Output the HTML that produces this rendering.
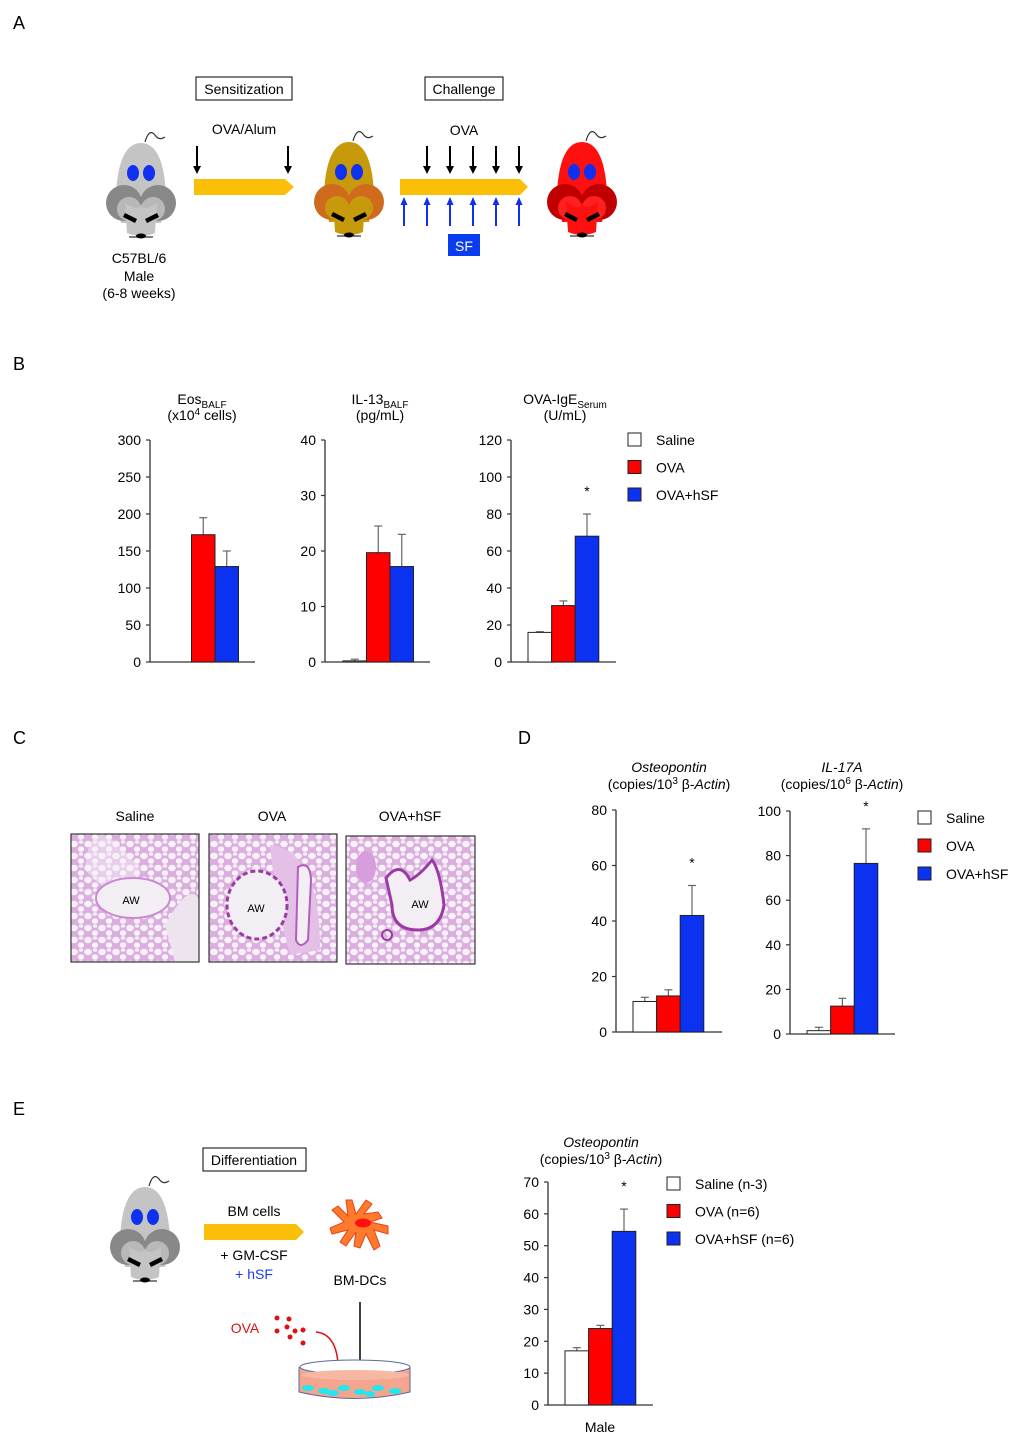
<!DOCTYPE html>
<html><head><meta charset="utf-8"><style>
html,body{margin:0;padding:0;background:#fff}
svg{display:block;font-family:"Liberation Sans",Arial,sans-serif}
</style></head><body>
<svg id="fig" width="1020" height="1444" viewBox="0 0 1020 1444" xmlns="http://www.w3.org/2000/svg">
<defs>
<pattern id="tissue" width="14" height="12" patternUnits="userSpaceOnUse">
<rect width="14" height="12" fill="#dcaee0"/>
<ellipse cx="4" cy="4" rx="3.8" ry="3.2" fill="#f7f2f8"/>
<ellipse cx="11" cy="9" rx="3.2" ry="2.8" fill="#f8f3f9"/>
<ellipse cx="11" cy="2" rx="2.2" ry="1.8" fill="#f5eef6"/>
</pattern>
<marker id="ah" markerWidth="9" markerHeight="9" refX="4" refY="4.5" orient="auto" markerUnits="userSpaceOnUse"><path d="M0,0 L9,4.5 L0,9z" fill="#000"/></marker>
</defs>
<g font-size="18" fill="#000">
<text x="13" y="29">A</text>
<text x="13" y="370">B</text>
<text x="13" y="744">C</text>
<text x="518" y="744">D</text>
<text x="13" y="1115">E</text>
</g>
<g id="panelA">
<rect x="196" y="77" width="96" height="23" fill="#fff" stroke="#000"/>
<text x="244" y="94" font-size="14" text-anchor="middle">Sensitization</text>
<rect x="425" y="77" width="78" height="23" fill="#fff" stroke="#000"/>
<text x="464" y="94" font-size="14" text-anchor="middle">Challenge</text>
<text x="244" y="134" font-size="14" text-anchor="middle">OVA/Alum</text>
<text x="464" y="135" font-size="14" text-anchor="middle">OVA</text>
<path d="M194,179 L285,179 L294,187 L285,195 L194,195z" fill="#fbbf0a"/>
<path d="M400,179 L520,179 L528,187 L520,195 L400,195z" fill="#fbbf0a"/>
<g id="blackArrows" stroke="#000" stroke-width="2"></g>
<g id="blueArrows" stroke="#1030f0" stroke-width="2"></g>
<rect x="448" y="234" width="32" height="22" fill="#0a3cf0"/>
<text x="464" y="251" font-size="14" fill="#fff" text-anchor="middle">SF</text>
<text x="139" y="263" font-size="14" text-anchor="middle">C57BL/6</text>
<text x="139" y="281" font-size="14" text-anchor="middle">Male</text>
<text x="139" y="298" font-size="14" text-anchor="middle">(6-8 weeks)</text>
<g id="mice"></g>
</g>
<g id="panelC">
<text x="135" y="821" font-size="14" text-anchor="middle">Saline</text>
<text x="272" y="821" font-size="14" text-anchor="middle">OVA</text>
<text x="410" y="821" font-size="14" text-anchor="middle">OVA+hSF</text>
<g>
<rect x="71" y="834" width="128" height="128" fill="url(#tissue)"/>
<path d="M85,870 Q130,920 140,870 Q90,800 85,870z" fill="#f5eef6" opacity="0.5"/>
<ellipse cx="133" cy="898" rx="37" ry="20" fill="#f3eef4" stroke="#c98ad0" stroke-width="2"/>
<path d="M165,925 Q190,880 199,900 L199,962 L175,962z" fill="#eee4f0"/>
<text x="131" y="904" font-size="11" text-anchor="middle">AW</text>
<rect x="71" y="834" width="128" height="128" fill="none" stroke="#333" stroke-width="1.2"/>
</g>
<g>
<rect x="209" y="834" width="128" height="128" fill="url(#tissue)"/>
<path d="M270,845 Q320,850 320,950 L290,955 Q275,900 270,845z" fill="#e4bfe6"/>
<ellipse cx="257" cy="905" rx="30" ry="34" fill="#f3eef4" stroke="#9b3aa5" stroke-width="3" stroke-dasharray="5 3"/>
<path d="M298,867 Q310,860 311,880 L308,940 Q300,950 296,940z" fill="#f3eef4" stroke="#b35dbc" stroke-width="2"/>
<text x="256" y="912" font-size="11" text-anchor="middle">AW</text>
<rect x="209" y="834" width="128" height="128" fill="none" stroke="#333" stroke-width="1.2"/>
</g>
<g>
<rect x="346" y="836" width="129" height="128" fill="url(#tissue)"/>
<path d="M386,878 Q400,860 410,880 Q420,875 432,860 Q440,870 444,905 Q440,930 418,930 Q392,930 392,905z" fill="#f3eef4" stroke="#9b3aa5" stroke-width="3"/>
<ellipse cx="366" cy="867" rx="10" ry="16" fill="#d89ddc"/>
<ellipse cx="387" cy="935" rx="5" ry="5" fill="none" stroke="#9b3aa5" stroke-width="2"/>
<text x="420" y="908" font-size="11" text-anchor="middle">AW</text>
<rect x="346" y="836" width="129" height="128" fill="none" stroke="#333" stroke-width="1.2"/>
</g>
</g>
<g id="panelE">
<rect x="203" y="1148" width="103" height="23" fill="#fff" stroke="#000"/>
<text x="254" y="1165" font-size="14" text-anchor="middle">Differentiation</text>
<text x="254" y="1216" font-size="14" text-anchor="middle">BM cells</text>
<path d="M204,1224 L296,1224 L304,1232 L296,1240 L204,1240z" fill="#fbbf0a"/>
<text x="254" y="1260" font-size="14" text-anchor="middle">+ GM-CSF</text>
<text x="254" y="1279" font-size="14" text-anchor="middle" fill="#1a3cf0">+ hSF</text>
<g stroke="#e8401a" stroke-width="1" fill="#ff7a2a">
<path d="M344,1222 L332,1210 L338,1206 L348,1216 L346,1200 L352,1200 L356,1214 L366,1200 L372,1204 L364,1214 L378,1212 L382,1218 L370,1222 L388,1226 L388,1234 L374,1230 L380,1246 L374,1250 L366,1234 L360,1248 L354,1246 L356,1232 L346,1246 L340,1242 L348,1230 L332,1234 L330,1228z"/>
<ellipse cx="363" cy="1223" rx="8" ry="4.5" fill="#ff1010" stroke="none"/>
</g>
<text x="360" y="1285" font-size="14" text-anchor="middle">BM-DCs</text>
<line x1="360" y1="1302" x2="360" y2="1366" stroke="#000" stroke-width="1.5"/>
<path d="M356,1363 L360,1371 L364,1363z" fill="#000"/>
<text x="245" y="1333" font-size="14" text-anchor="middle" fill="#e01010">OVA</text>
<g fill="#e01010">
<circle cx="277" cy="1318" r="2.5"/><circle cx="289" cy="1319" r="2.5"/><circle cx="287" cy="1327" r="2.5"/><circle cx="277" cy="1331" r="2.5"/><circle cx="295" cy="1331" r="2.5"/><circle cx="290" cy="1337" r="2.5"/><circle cx="303" cy="1330" r="2.5"/><circle cx="303" cy="1343" r="2.5"/>
</g>
<path d="M316,1332 Q336,1334 338,1364" fill="none" stroke="#e01010" stroke-width="1.5"/>
<path d="M334,1362 L338,1370 L342,1362z" fill="#e01010"/>
<g>
<path d="M299,1367 L299,1392 Q355,1405 410,1392 L410,1367" fill="#f4a58e" stroke="#5a6a9a"/>
<ellipse cx="355" cy="1367" rx="55" ry="7" fill="#fff" stroke="#5a6a9a"/>
<ellipse cx="355" cy="1375" rx="54" ry="5" fill="#f6b7a3" stroke="none"/>
<g fill="#22e6f0"><ellipse cx="308" cy="1388" rx="6" ry="3"/><ellipse cx="324" cy="1391" rx="6" ry="3"/><ellipse cx="344" cy="1388" rx="6" ry="3"/><ellipse cx="360" cy="1392" rx="6" ry="3"/><ellipse cx="378" cy="1388" rx="6" ry="3"/><ellipse cx="395" cy="1391" rx="6" ry="3"/><ellipse cx="333" cy="1393" rx="6" ry="3"/><ellipse cx="370" cy="1394" rx="5" ry="3"/></g>
</g>
</g>
<g id="charts"></g>
</svg>
<script>
// ---- Panel B data ----
const groups = ["Saline","OVA","OVA+hSF"];
const eosValues = [0, 172, 129];
const eosErrors = [0, 23, 21];
const eosTicks = [0,50,100,150,200,250,300];
const il13Values = [0.2, 19.7, 17.2];
const il13Errors = [0.3, 4.8, 5.8];
const il13Ticks = [0,10,20,30,40];
const igeValues = [16, 30.5, 68];
const igeErrors = [0.4, 2.5, 12];
const igeTicks = [0,20,40,60,80,100,120];
const igeStars = [false,false,true];
// ---- Panel D data ----
const opnValues = [11, 13, 42];
const opnErrors = [1.5, 2.2, 10.8];
const opnTicks = [0,20,40,60,80];
const opnStars = [false,false,true];
const il17Values = [1.5, 12.5, 76.5];
const il17Errors = [1.5, 3.5, 15.5];
const il17Ticks = [0,20,40,60,80,100];
const il17Stars = [false,false,true];
// ---- Panel E data ----
const maleValues = [17, 24, 54.5];
const maleErrors = [1, 1, 7];
const maleTicks = [0,10,20,30,40,50,60,70];
const maleStars = [false,false,true];
const legendE = ["Saline (n-3)","OVA (n=6)","OVA+hSF (n=6)"];
const colors = ["#ffffff","#ff0000","#0a32f0"];

const NS = "http://www.w3.org/2000/svg";
const root = document.getElementById('charts');
function mk(tag, attrs, parent, text){
  const e = document.createElementNS(NS, tag);
  for (const k in attrs) e.setAttribute(k, attrs[k]);
  if (text !== undefined) e.textContent = text;
  (parent||root).appendChild(e);
  return e;
}
function chart(name, o){
  const g = mk('g', {});
  
  
  const max = o.ticks[o.ticks.length-1];
  const y = v => o.bottom - (v/max)*(o.bottom - o.top);
  mk('line',{x1:o.ax,y1:o.top,x2:o.ax,y2:o.bottom,stroke:'#333','stroke-width':1.3},g);
  mk('line',{x1:o.ax,y1:o.bottom,x2:o.ax+o.len,y2:o.bottom,stroke:'#333','stroke-width':1.3},g);
  o.ticks.forEach(t=>{
    const ty = y(t);
    mk('line',{x1:o.ax-4,y1:ty,x2:o.ax,y2:ty,stroke:'#333','stroke-width':1.2},g);
    const tl = mk('text',{x:o.ax-9,y:ty+5,'font-size':14,'text-anchor':'end'},g,String(t));
    
    
  });
  o.values.forEach((v,i)=>{
    const bx = o.x0 + i*o.bw;
    if (v>0){
      const err = o.errors[i];
      if (err>0){
        mk('line',{x1:bx+o.bw/2,y1:y(v),x2:bx+o.bw/2,y2:y(v+err),stroke:'#666','stroke-width':1.2},g);
        mk('line',{x1:bx+o.bw/2-4,y1:y(v+err),x2:bx+o.bw/2+4,y2:y(v+err),stroke:'#666','stroke-width':1.2},g);
      }
      const r = mk('rect',{x:bx,y:y(v),width:o.bw,height:o.bottom-y(v),fill:colors[i],stroke:'#222','stroke-width':1},g);
      
      
    }
    if (o.stars && o.stars[i]){
      const s = mk('text',{x:bx+o.bw/2,y:y(o.values[i]+o.errors[i])-(o.starGap||18),'font-size':14,'text-anchor':'middle'},g,'*');
      
      
    }
  });
  return g;
}
function titleT(g, x, y, parts){
  const t = mk('text',{x:x,y:y,'font-size':14,'text-anchor':'middle'},g);
  parts.forEach(p=>{ mk('tspan',p.a||{},t,p.s); });
  
  
  return t;
}
function legend(name, x, y0, gap, labels){
  const g = mk('g',{});
  
  
  labels.forEach((l,i)=>{
    mk('rect',{x:x,y:y0+i*gap-7,width:13,height:13,fill:colors[i],stroke:'#222'},g);
    const t = mk('text',{x:x+28,y:y0+i*gap+5,'font-size':14},g,l);
    
    
  });
}
let g;
g = chart('eos-chart',{ax:150,top:440,bottom:662,len:105,ticks:eosTicks,values:eosValues,errors:eosErrors,x0:168,bw:23.5});
titleT(g,202,404,[{s:'Eos'},{s:'BALF',a:{'font-size':10,dy:4}}]);
titleT(g,202,420,[{s:'(x10'},{s:'4',a:{'font-size':10,dy:-5}},{s:' cells)',a:{dy:5}}]);
g = chart('il13-chart',{ax:325,top:440,bottom:662,len:105,ticks:il13Ticks,values:il13Values,errors:il13Errors,x0:343,bw:23.5});
titleT(g,380,404,[{s:'IL-13'},{s:'BALF',a:{'font-size':10,dy:4}}]);
titleT(g,380,420,[{s:'(pg/mL)'}]);
g = chart('ige-chart',{ax:511,top:440,bottom:662,len:105,ticks:igeTicks,values:igeValues,errors:igeErrors,x0:528,bw:23.6,stars:igeStars});
titleT(g,565,404,[{s:'OVA-IgE'},{s:'Serum',a:{'font-size':10,dy:4}}]);
titleT(g,565,420,[{s:'(U/mL)'}]);
legend('legend-b',628,440,27.5,groups);
g = chart('osteopontin-lung-chart',{ax:616,top:810,bottom:1032,len:106,ticks:opnTicks,values:opnValues,errors:opnErrors,x0:633,bw:23.6,stars:opnStars});
titleT(g,669,772,[{s:'Osteopontin',a:{'font-style':'italic'}}]);
titleT(g,669,789,[{s:'(copies/10'},{s:'3',a:{'font-size':10,dy:-5}},{s:' β-',a:{dy:5}},{s:'Actin',a:{'font-style':'italic'}},{s:')'}]);
g = chart('il17a-chart',{ax:790,top:811,bottom:1034,len:105,ticks:il17Ticks,values:il17Values,errors:il17Errors,x0:807,bw:23.6,stars:il17Stars});
titleT(g,842,772,[{s:'IL-17A',a:{'font-style':'italic'}}]);
titleT(g,842,789,[{s:'(copies/10'},{s:'6',a:{'font-size':10,dy:-5}},{s:' β-',a:{dy:5}},{s:'Actin',a:{'font-style':'italic'}},{s:')'}]);
legend('legend-d',918,818,28,groups);
g = chart('osteopontin-bmdc-chart',{ax:548,top:1182,bottom:1405,len:105,ticks:maleTicks,values:maleValues,errors:maleErrors,x0:565,bw:23.6,stars:maleStars});
titleT(g,601,1147,[{s:'Osteopontin',a:{'font-style':'italic'}}]);
titleT(g,601,1164,[{s:'(copies/10'},{s:'3',a:{'font-size':10,dy:-5}},{s:' β-',a:{dy:5}},{s:'Actin',a:{'font-style':'italic'}},{s:')'}]);
const ml = mk('text',{x:600,y:1432,'font-size':14,'text-anchor':'middle'},g,'Male');


legend('legend-e',667,1184,27.5,legendE);

const ba = document.getElementById('blackArrows');
[197,288,427,450,473,496,519].forEach(x=>{
  mk('line',{x1:x,y1:146,x2:x,y2:167},ba);
  mk('path',{d:`M${x-4},${166} L${x},${174} L${x+4},${166}z`,fill:'#000',stroke:'none'},ba);
});
const bl = document.getElementById('blueArrows');
[404,427,450,473,496,519].forEach(x=>{
  mk('line',{x1:x,y1:226,x2:x,y2:204},bl);
  mk('path',{d:`M${x-3.5},${205} L${x},${197} L${x+3.5},${205}z`,fill:'#1030f0',stroke:'none'},bl);
});
function mouse(parent, cx, cy, head, ear, earIn, name){
  const m = mk('g',{transform:`translate(${cx},${cy})`}, parent);
  
  
  mk('path',{d:'M4,-31 Q8,-45 14,-38 Q18,-32 24,-36',fill:'none',stroke:'#333','stroke-width':1.2},m);
  mk('path',{d:'M0,-30 Q-22,-30 -25,20 L-20,50 L20,50 L25,20 Q22,-30 0,-30z',fill:head},m);
  mk('circle',{cx:-17,cy:30,r:18,fill:ear},m);
  mk('circle',{cx:17,cy:30,r:18,fill:ear},m);
  mk('circle',{cx:-12,cy:36,r:12,fill:earIn},m);
  mk('circle',{cx:12,cy:36,r:12,fill:earIn},m);
  mk('path',{d:'M-16,30 Q0,40 0,30 Q0,40 16,30 L14,60 Q0,66 -14,60z',fill:head},m);
  mk('ellipse',{cx:-8,cy:0,rx:6,ry:8,fill:'#1030f0'},m);
  mk('ellipse',{cx:8,cy:0,rx:6,ry:8,fill:'#1030f0'},m);
  mk('path',{d:'M-16,40 L-4,46 L-6,50 L-18,44z M16,40 L4,46 L6,50 L18,44z',fill:'#000'},m);
  mk('ellipse',{cx:0,cy:63,rx:5,ry:2.5,fill:'#000'},m);
  mk('line',{x1:-12,y1:64,x2:12,y2:64,stroke:'#000','stroke-width':1},m);
}
const mice = document.getElementById('mice');
mouse(mice,141,173,'#c4c4c4','#888','#b8b8b8','mouse-naive');
mouse(mice,349,172,'#c79a0c','#d06a1c','#c79a0c','mouse-sensitized');
mouse(mice,582,172,'#ff1010','#c00000','#ff2020','mouse-challenged');
mouse(document.getElementById('panelE'),145,1217,'#c4c4c4','#888','#b8b8b8','mouse-bm-donor');
</script>
</body></html>
